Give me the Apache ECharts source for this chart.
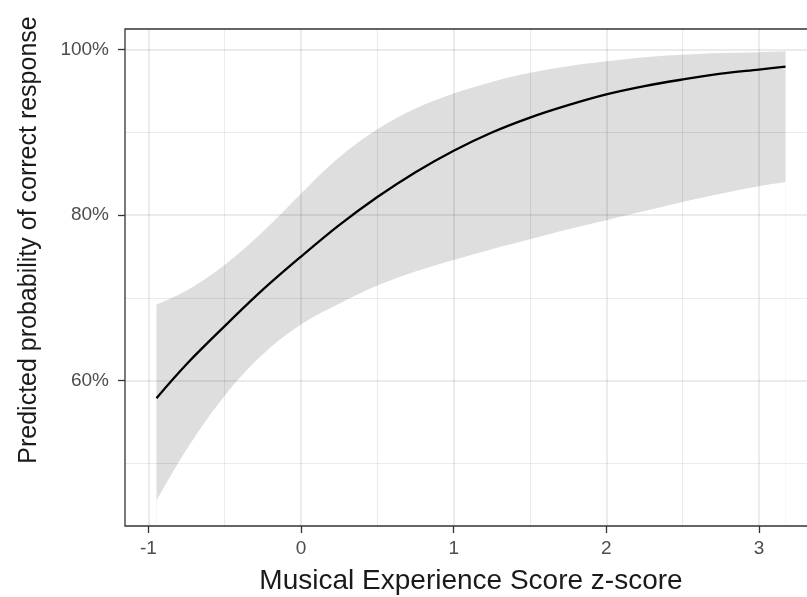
<!DOCTYPE html>
<html>
<head>
<meta charset="utf-8">
<script src="https://cdn.jsdelivr.net/npm/echarts@6/dist/echarts.min.js"></script>
<style>
  html, body { margin: 0; padding: 0; background: #fff; }
  #chart { width: 807px; height: 597px; }
</style>
</head>
<body>
<div id="chart"></div>
<script>
// Musical experience z-score (x) and predicted probability of a correct response, in percent
const zScore = [-0.947, -0.75, -0.5, -0.25, 0, 0.25, 0.5, 0.75, 1, 1.25, 1.5, 1.75, 2, 2.25, 2.5, 2.75, 3, 3.174];
const fitted = [57.9, 62.0, 66.6, 71.0, 75.0, 78.8, 82.2, 85.2, 87.8, 90.0, 91.8, 93.3, 94.6, 95.6, 96.4, 97.1, 97.6, 97.95];
const lower  = [45.5, 51.7, 58.2, 63.2, 66.8, 69.3, 71.5, 73.2, 74.6, 75.9, 77.1, 78.3, 79.4, 80.5, 81.6, 82.6, 83.5, 84.0];
const upper  = [69.2, 70.9, 74.0, 78.0, 82.6, 87.0, 90.4, 92.9, 94.7, 96.1, 97.2, 98.0, 98.6, 99.1, 99.4, 99.6, 99.7, 99.8];

// Axis breaks
const xMajor = [-1, 0, 1, 2, 3];
const xMinor = [-0.5, 0.5, 1.5, 2.5];
const yMajor = [60, 80, 100];
const yMinor = [50, 70, 90];
const xRange = [-1.153, 3.38];
const yRange = [42.45, 102.5];

const pair = (ys) => zScore.map((x, i) => [x, ys[i]]);

// translucent grid lines so they darken slightly where they cross the band
const gridColor = 'rgba(0,0,0,0.08)';
const vLine = (v, w) => ({ xAxis: v, lineStyle: { width: w, color: gridColor, type: 'solid' } });
const hLine = (v, w) => ({ yAxis: v, lineStyle: { width: w, color: gridColor, type: 'solid' } });
const gridLines = [
  ...xMinor.map(v => vLine(v, 1.1)),
  ...yMinor.map(v => hLine(v, 1.1)),
  ...xMajor.map(v => vLine(v, 2)),
  ...yMajor.map(v => hLine(v, 2))
];

const fontFamily = '"Liberation Sans", Arial, Helvetica, sans-serif';
const curve = { type: 'line', showSymbol: false, smooth: 0.35, silent: true };

const chart = echarts.init(document.getElementById('chart'), null, { renderer: 'canvas' });
chart.setOption({
  animation: false,
  backgroundColor: '#ffffff',
  grid: {
    left: 125, top: 29, width: 692, height: 497, z: 10,
    show: true, borderColor: '#333333', borderWidth: 1.3, backgroundColor: 'transparent',
    containLabel: false, outerBoundsMode: 'none'
  },
  graphic: [{
    type: 'text', x: 29, y: 240, rotation: Math.PI / 2, silent: true,
    style: {
      text: 'Predicted probability of correct response',
      fontFamily, fontSize: 25, fill: '#1a1a1a',
      align: 'center', verticalAlign: 'middle'
    }
  }],
  xAxis: {
    type: 'value', min: xRange[0], max: xRange[1],
    name: 'Musical Experience Score z-score',
    nameLocation: 'middle', nameGap: 41,
    nameTextStyle: { fontFamily, fontSize: 28, color: '#1a1a1a' },
    axisLine: { show: false, onZero: false },
    splitLine: { show: false },
    axisTick: { show: true, inside: false, length: 7, customValues: xMajor,
      lineStyle: { color: '#333333', width: 1.3 } },
    axisLabel: { customValues: xMajor, margin: 13, fontFamily, fontSize: 19, color: '#4d4d4d',
      formatter: v => String(v) }
  },
  yAxis: {
    type: 'value', min: yRange[0], max: yRange[1],
    axisLine: { show: false, onZero: false },
    splitLine: { show: false },
    axisTick: { show: true, inside: false, length: 7, customValues: yMajor,
      lineStyle: { color: '#333333', width: 1.3 } },
    axisLabel: { customValues: yMajor, margin: 16, fontFamily, fontSize: 19, color: '#4d4d4d',
      formatter: v => v + '%' }
  },
  series: [
    {
      // upper edge of the confidence band, filled down to the panel floor
      ...curve, data: pair(upper), z: 1,
      lineStyle: { opacity: 0 },
      areaStyle: { color: '#dedede', opacity: 1, origin: 'start' }
    },
    {
      // lower edge of the band: white fill below it leaves only the band grey
      ...curve, data: pair(lower), z: 1,
      lineStyle: { opacity: 0 },
      areaStyle: { color: '#ffffff', opacity: 1, origin: 'start' }
    },
    {
      // panel grid lines
      type: 'line', data: [], z: 2, silent: true,
      markLine: { silent: true, symbol: ['none', 'none'], label: { show: false },
        emphasis: { disabled: true }, data: gridLines, animation: false }
    },
    {
      // fitted probability curve
      ...curve, data: pair(fitted), z: 3,
      lineStyle: { color: '#000000', width: 2.3 }
    }
  ]
});
</script>
</body>
</html>
